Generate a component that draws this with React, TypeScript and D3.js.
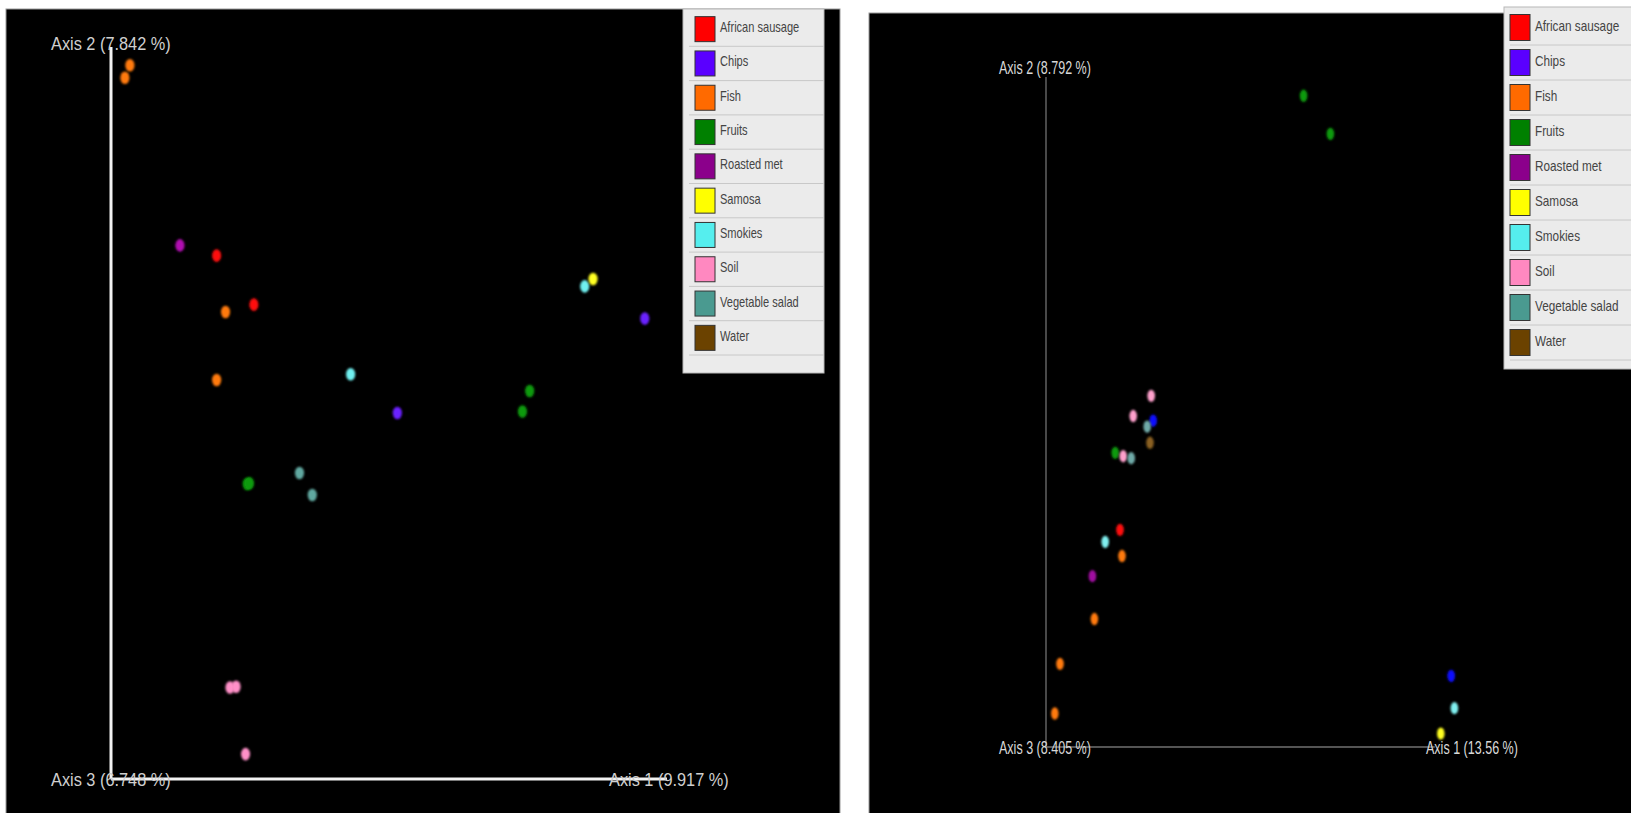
import React from "react";
import * as d3 from "d3";

const categories = ["African sausage", "Chips", "Fish", "Fruits", "Roasted met", "Samosa", "Smokies", "Soil", "Vegetable salad", "Water"];
const legendColors = ["#ff0000", "#5a00ff", "#ff6a00", "#008000", "#8b008b", "#ffff00", "#55eeee", "#ff88c0", "#4a9a90", "#6b4200"];
const leftDotColors = ["#ff1010", "#6a20ff", "#ff7a10", "#0c9a0c", "#b010b0", "#ffff20", "#70f0f0", "#ff90c8", "#60a8a0", "#7a5010"];
const rightDotColors = ["#ff1010", "#1010ff", "#ff7a10", "#0c9a0c", "#a010a0", "#ffff20", "#80f0f0", "#ffa0cc", "#70aaa8", "#8a6020"];

const leftAxisLabels = ["Axis 1 (9.917 %)", "Axis 2 (7.842 %)", "Axis 3 (6.748 %)"];
const rightAxisLabels = ["Axis 1 (13.56 %)", "Axis 2 (8.792 %)", "Axis 3 (8.405 %)"];

// [category, axis1 position, axis2 position] as projected fractions of the drawn axes
const leftPoints: [string, number, number][] = [
  ["Fish", 0.034, 0.975],
  ["Fish", 0.025, 0.958],
  ["Fish", 0.206, 0.638],
  ["Fish", 0.190, 0.545],
  ["Roasted met", 0.124, 0.729],
  ["African sausage", 0.190, 0.715],
  ["African sausage", 0.257, 0.648],
  ["Smokies", 0.431, 0.553],
  ["Smokies", 0.852, 0.673],
  ["Chips", 0.515, 0.500],
  ["Chips", 0.960, 0.629],
  ["Samosa", 0.867, 0.683],
  ["Fruits", 0.753, 0.530],
  ["Fruits", 0.740, 0.502],
  ["Fruits", 0.245, 0.403],
  ["Fruits", 0.249, 0.404],
  ["Vegetable salad", 0.339, 0.418],
  ["Vegetable salad", 0.362, 0.388],
  ["Soil", 0.214, 0.125],
  ["Soil", 0.225, 0.126],
  ["Soil", 0.242, 0.034],
];

const rightPoints: [string, number, number][] = [
  ["Fruits", 0.644, 0.972],
  ["Fruits", 0.711, 0.915],
  ["Fruits", 0.173, 0.439],
  ["Soil", 0.263, 0.524],
  ["Soil", 0.218, 0.494],
  ["Soil", 0.193, 0.434],
  ["Chips", 0.268, 0.487],
  ["Chips", 1.013, 0.106],
  ["Vegetable salad", 0.253, 0.478],
  ["Vegetable salad", 0.213, 0.431],
  ["Water", 0.260, 0.454],
  ["African sausage", 0.185, 0.324],
  ["Smokies", 0.148, 0.306],
  ["Smokies", 1.021, 0.058],
  ["Fish", 0.190, 0.285],
  ["Fish", 0.121, 0.191],
  ["Fish", 0.035, 0.124],
  ["Fish", 0.022, 0.050],
  ["Roasted met", 0.116, 0.255],
  ["Samosa", 0.987, 0.020],
];

function Legend({ x, y, w, h, rowH, swX, swW, swH, textX, sx }: any) {
  return (
    <g>
      <rect x={x} y={y} width={w} height={h} fill="#ebebeb" stroke="#b8b8b8" strokeWidth={1} />
      {categories.map((c, i) => {
        const top = y + 3 + i * rowH;
        return (
          <g key={c}>
            <line x1={x + 6} x2={x + w} y1={top + rowH} y2={top + rowH} stroke="#c8c8c8" strokeWidth={1} />
            <rect x={swX} y={top + (rowH - swH) / 2} width={swW} height={swH} fill={legendColors[i]} stroke="#333" strokeWidth={1} />
            <text
              transform={`translate(${textX},${top + rowH / 2 + 3}) scale(${sx},1)`}
              fontFamily="Liberation Sans, Arial, sans-serif"
              fontSize={14}
              fill="#444"
            >
              {c}
            </text>
          </g>
        );
      })}
    </g>
  );
}

function Dot({ cx, cy, rx, ry, color }: any) {
  return <ellipse cx={cx} cy={cy} rx={rx} ry={ry} fill={color} filter="url(#soft)" />;
}

export default function App() {
  const xL = d3.scaleLinear().domain([0, 1]).range([111, 667]);
  const yL = d3.scaleLinear().domain([0, 1]).range([779, 47]);
  const xR = d3.scaleLinear().domain([0, 1]).range([1046, 1446]);
  const yR = d3.scaleLinear().domain([0, 1]).range([747, 77]);
  const idx = (c: string) => categories.indexOf(c);
  const font = "Liberation Sans, Arial, sans-serif";

  return (
    <svg width={1631} height={813} style={{ position: "absolute", left: 0, top: 0, background: "#ffffff" }}>
      <defs>
        <filter id="soft" x="-50%" y="-50%" width="200%" height="200%">
          <feGaussianBlur stdDeviation={0.9} />
        </filter>
      </defs>
      <rect x={0} y={0} width={1631} height={813} fill="#ffffff" />
      {/* left panel */}
      <rect x={6} y={9} width={834} height={810} fill="#000" stroke="#9a9a9a" strokeWidth={1} />
      {/* right panel */}
      <rect x={869} y={13} width={770} height={810} fill="#000" stroke="#9a9a9a" strokeWidth={1} />

      {/* left axes */}
      <line x1={xL(0)} x2={xL(0)} y1={yL(0)} y2={yL(1)} stroke="#f2f2f2" strokeWidth={3} />
      <line x1={xL(0)} x2={xL(1)} y1={yL(0)} y2={yL(0)} stroke="#f2f2f2" strokeWidth={3} />
      {leftPoints.map((p, i) => (
        <Dot key={i} cx={xL(p[1])} cy={yL(p[2])} rx={4.6} ry={6.3} color={leftDotColors[idx(p[0])]} />
      ))}
      <text transform={`translate(51,50) scale(0.86,1)`} fontFamily={font} fontSize={19} fill="#cfcfcf">{leftAxisLabels[1]}</text>
      <text transform={`translate(51,${yL(0) + 7}) scale(0.86,1)`} fontFamily={font} fontSize={19} fill="#cfcfcf">{leftAxisLabels[2]}</text>
      <text transform={`translate(609,${yL(0) + 7}) scale(0.86,1)`} fontFamily={font} fontSize={19} fill="#cfcfcf">{leftAxisLabels[0]}</text>

      {/* right axes */}
      <line x1={xR(0)} x2={xR(0)} y1={yR(0)} y2={yR(1)} stroke="#707070" strokeWidth={1.3} />
      <line x1={xR(0)} x2={xR(0.972)} y1={yR(0)} y2={yR(0)} stroke="#707070" strokeWidth={1.3} />
      {rightPoints.map((p, i) => (
        <Dot key={i} cx={xR(p[1])} cy={yR(p[2])} rx={3.8} ry={6.2} color={rightDotColors[idx(p[0])]} />
      ))}
      <text transform={`translate(999,74) scale(0.66,1)`} fontFamily={font} fontSize={19} fill="#d8d8d8">{rightAxisLabels[1]}</text>
      <text transform={`translate(999,${yR(0) + 7}) scale(0.66,1)`} fontFamily={font} fontSize={19} fill="#d8d8d8">{rightAxisLabels[2]}</text>
      <text transform={`translate(1426,${yR(0) + 7}) scale(0.66,1)`} fontFamily={font} fontSize={19} fill="#d8d8d8">{rightAxisLabels[0]}</text>

      <Legend x={683} y={9} w={141} h={364} rowH={34.3} swX={695} swW={20} swH={25} textX={720} sx={0.79} />
      <Legend x={1504} y={7} w={132} h={362} rowH={35} swX={1510} swW={20} swH={26} textX={1535} sx={0.84} />
    </svg>
  );
}
